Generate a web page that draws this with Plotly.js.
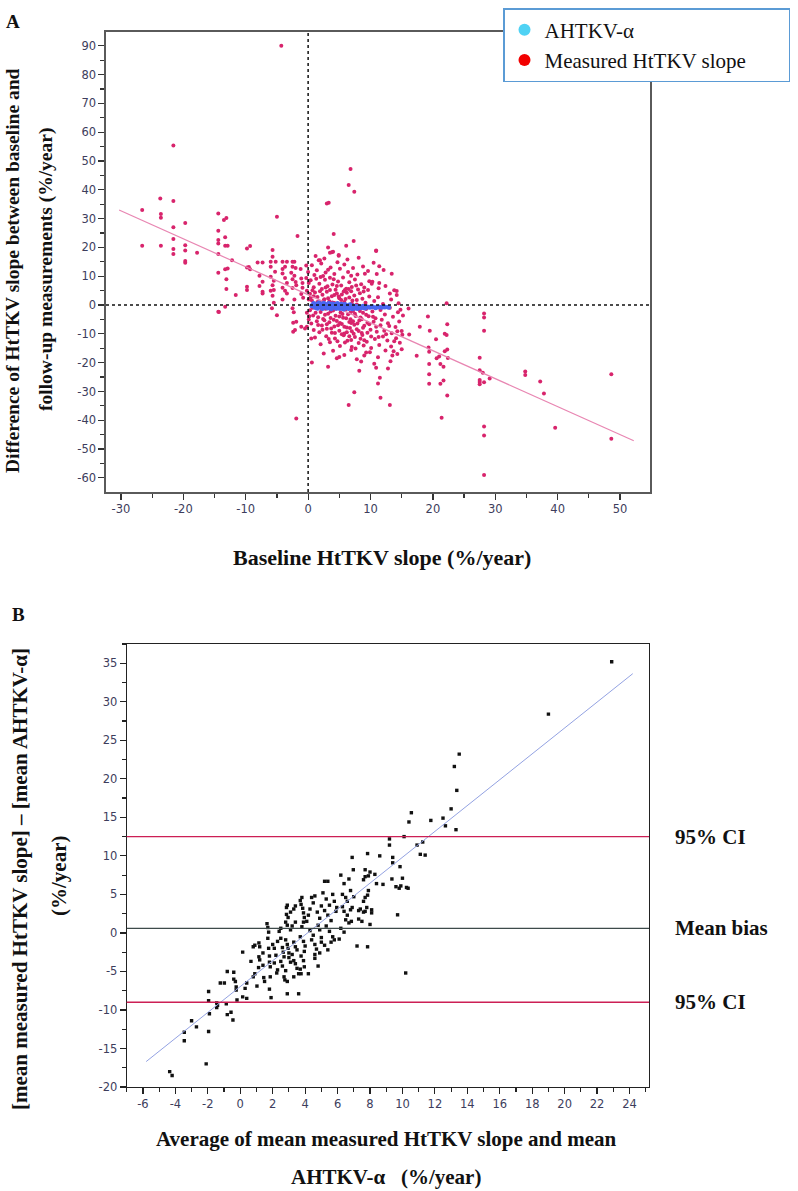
<!DOCTYPE html>
<html>
<head>
<meta charset="utf-8">
<script src="https://cdn.plot.ly/plotly-3.0.1.min.js"></script>
<style>html,body{margin:0;padding:0;background:#fff;}#chart{width:798px;height:1191px;}</style>
</head>
<body>
<div id="chart"></div>
<script>
// ---------- Panel A data (baseline slope, difference) ----------
const redLeft = [
[-4.3,90],[-21.6,55.4],[-23.7,37],[-21.6,36.1],[-26.6,33],[-23.6,31.6],[-23.6,30.3],[-21.6,27],[-19.7,28.5],
[-26.6,20.6],[-23.6,20.6],[-21.6,22.9],[-21.6,19.5],[-21.6,17.7],[-19.7,20.8],[-19.7,18.9],[-19.7,15.3],[-19.7,14.7],
[-17.8,18.2],[-14.4,31.8],[-13.5,29.5],[-13.1,30.2],[-14.4,25.8],[-14.4,22.6],[-14.4,21.4],[-13.3,23.5],[-13.3,20.6],
[-12.9,20.6],[-14.4,17.7],[-14.4,11.2],[-13.3,12.4],[-12.9,12.7],[-13.1,9],[-13.1,5.6],[-13.3,-0.6],[-14.4,-2.3],
[-12.2,15.6],[-11.6,3.5],[-9.8,19.6],[-9.3,20.5],[-9.8,13],[-9.5,13.2],[-9.3,12.4],[-9.8,6.4],[-9.8,5.2],[-8.1,14.8],
[-7.3,14.8],[-7.8,10.2],[-7.3,8.1],[-7.8,6.6],[-7.3,4.6],[-7.3,4],[-5.7,19.1],[-5.7,16.8],[-5,30.7],[-6.0,15],[-5.2,15],
[-6.0,13.3],[-5.3,11.6],[-6.0,9.8],[-5.5,8.4],[-5.7,6.9],[-6.0,5],[-5.5,5.2],[-5.7,3.2],[-5.5,0.8],[-5.8,-1.1],[-5,-3.5],
[-4.1,15],[-3.4,15],[-4.1,12.5],[-3.7,13.3],[-4.1,11.0],[-3.7,9.4],[-3.4,7.7],[-4.1,6.0],[-3.7,5.0],[-3.4,4.0],[-4.1,1.9],
[-2.5,15],[-2.2,15],[-2.5,13.3],[-2.0,12.9],[-2.7,11.2],[-2.2,10.2],[-2.5,9],[-2.0,8],[-2.5,5.9],[-1.9,6.9],[-2.2,1.9],
[-2.5,-1.1],[-2.3,-2.5],[-1.7,24],[-2.4,-6.1],[-1.9,-5.8],[-2.4,-9.3],[-1.1,-7.5],[-1.2,12.5],[-1.1,9.2],[-0.9,7.7],
[-0.9,6],[-1.1,3.8],[-0.8,2.5],[-0.3,13.7],[0.0,11.5],[-0.3,9.4],[0.1,7.7],[-0.2,5],[0.1,1.9],[-0.2,-2.7],[0.1,-5],
[-0.2,-7.5],[-14.3,-2.4],[-1.9,-39.4],[-0.5,-8.1],[-2.1,-8.7]
];
const redCluster = [
[3.5,18.2],[4.0,18.5],[4.9,17.4],[10.9,18.9],[2.6,16.2],[6.3,15.8],[8.1,16.4],[1.2,17.0],
[0.6,13.8],[1.4,12.1],[2.1,14.4],[2.8,11.3],[3.6,13.0],[4.2,10.8],[5.1,12.6],[5.8,14.1],[6.4,11.5],[7.2,12.9],[7.9,10.6],
[8.8,13.4],[9.6,11.8],[10.5,14.7],[12.1,12.2],[13.4,10.9],[1.0,10.4],[2.4,10.1],[3.2,12.3],[4.7,14.9],[6.9,10.2],[9.1,10.9],
[0.4,8.6],[0.9,6.2],[1.3,9.1],[1.8,7.4],[2.2,5.6],[2.7,8.8],[3.1,6.5],[3.5,9.5],[3.9,7.1],[4.4,5.3],[4.8,8.2],[5.3,6.8],
[5.6,9.6],[6.1,5.7],[6.6,7.9],[7.0,6.3],[7.5,8.9],[8.0,5.4],[8.5,7.2],[9.0,6.1],[9.6,5.2],[10.2,7.4],[11.3,5.8],[12.4,6.6],
[13.8,5.1],[0.7,5.1],[2.0,9.7],[4.1,9.0],[5.9,5.2],[7.7,6.8],
[0.3,3.9],[0.6,1.6],[1.1,4.4],[1.5,2.8],[1.9,0.9],[2.3,3.6],[2.6,2.0],[3.0,4.6],[3.4,1.3],[3.8,3.1],[4.2,0.7],[4.6,4.0],
[5.0,2.4],[5.4,3.7],[5.8,1.1],[6.2,4.3],[6.6,2.6],[7.0,0.5],[7.4,3.3],[7.8,1.8],[8.3,4.1],[8.7,2.2],[9.2,0.8],[9.8,3.0],
[10.6,1.4],[11.2,2.7],[12.0,0.4],[13.3,1.9],[14.5,0.6],[1.3,0.3],[2.9,0.2],[5.2,0.1],[6.9,4.8],[8.9,4.7],
[0.3,-1.8],[0.8,-3.6],[1.2,-0.9],[1.6,-4.2],[2.0,-2.4],[2.4,-4.8],[2.8,-1.3],[3.2,-3.0],[3.6,-4.5],[4.0,-1.9],[4.4,-3.7],
[4.8,-0.8],[5.2,-2.6],[5.6,-4.4],[6.0,-1.5],[6.4,-3.2],[6.8,-4.9],[7.2,-2.1],[7.6,-3.8],[8.0,-1.1],[8.4,-4.3],[8.8,-2.7],
[9.3,-1.4],[9.7,-3.9],[10.3,-2.2],[10.8,-4.6],[11.6,-1.7],[12.3,-3.3],[13.1,-0.9],[13.6,-4.1],[14.4,-2.5],[15.2,-3.6],
[16.1,-1.2],[3.4,-0.4],[5.9,-0.3],
[0.5,-6.4],[0.9,-8.7],[1.4,-5.6],[1.8,-9.4],[2.2,-7.1],[2.6,-5.3],[3.0,-8.2],[3.4,-6.0],[3.8,-9.6],[4.2,-7.4],[4.6,-5.5],
[5.0,-8.9],[5.4,-6.6],[5.8,-9.9],[6.2,-7.8],[6.6,-5.9],[7.0,-9.1],[7.4,-6.8],[7.8,-8.4],[8.2,-5.4],[8.6,-9.7],[9.0,-7.2],
[9.5,-6.1],[10.0,-8.6],[10.5,-5.8],[11.0,-9.3],[11.6,-7.0],[12.2,-8.9],[12.8,-6.3],[13.4,-9.8],[14.0,-7.6],[14.6,-5.7],
[15.0,-9.0],[6.9,-6.2],[4.8,-7.0],
[1.1,-11.3],[2.0,-13.6],[2.9,-10.8],[3.5,-12.9],[4.3,-11.6],[5.1,-14.2],[5.7,-10.5],[6.3,-12.4],[7.0,-14.6],[7.5,-11.1],
[8.1,-13.2],[8.7,-10.4],[9.4,-12.7],[10.1,-14.9],[10.7,-11.8],[11.4,-13.9],[12.0,-10.9],[12.7,-12.3],[13.3,-14.4],
[14.1,-11.5],[14.7,-13.1],[15.1,-10.3],[6.6,-10.8],[8.9,-14.0],
[2.5,-16.8],[4.0,-15.9],[5.8,-17.3],[6.9,-15.6],[7.8,-18.8],[9.9,-16.4],[11.2,-18.1],[12.4,-15.8],[14.3,-17.0],[15.0,-15.3],
[8.5,-19.6],[10.6,-20.4]
];
const redCore = [
[0.4,2.6],[0.7,-0.9],[0.9,3.1],[1.2,-2.7],[1.5,1.1],[1.6,-6.9],[1.9,4.8],[2.1,-1.1],[2.3,-8.6],[2.5,1.7],[2.7,-3.4],
[2.8,6.1],[3.0,-6.7],[3.2,2.4],[3.3,-11.8],[3.5,5.2],[3.6,-2.2],[3.7,-8.1],[3.9,0.9],[4.1,-5.1],[4.2,3.5],[4.3,-9.7],
[4.5,-1.3],[4.6,6.6],[4.7,-12.6],[4.9,3.0],[5.0,-4.0],[5.1,-6.2],[5.3,1.8],[5.4,-10.1],[5.5,-3.1],[5.7,4.7],[5.8,-7.5],
[5.9,-13.0],[6.0,2.1],[6.1,-4.6],[6.2,-9.4],[6.4,-1.0],[6.5,5.6],[6.7,-8.0],[6.8,-2.6],[6.9,-12.1],[7.1,1.6],[7.2,-5.6],
[7.3,-10.0],[7.5,-3.0],[7.6,-15.1],[7.8,0.2],[7.9,-6.4],[8.1,-9.0],[8.3,-2.1],[8.4,-11.7],[8.6,-4.9],[8.8,-7.9],
[9.0,-12.2],[9.3,-3.4],[9.5,-9.6],[9.8,-6.7],[10.1,-10.9],[10.4,-4.1],[10.9,-7.5],[11.3,-11.1],[11.8,-5.1],[12.5,-10.1],
[13.0,-7.3],[13.8,-12.6],[14.3,-9.1],[14.8,-1.6],[0.2,-3.9],[0.5,-11.6]
];
const redRight = [
[6.8,47.2],[6.5,41.7],[7.4,39.3],[3.0,35.3],[3.3,35.5],[4.1,24.7],[7.3,22.2],[6.1,20.6],[3.2,20],[3.8,18.3],[4.9,17.1],
[1.7,15.6],[1.9,15.6],[10.9,18.8],[11.4,13.5],[11.0,10.8],[9.8,8.3],[10.3,8.1],[11.4,7.7],[13.1,4.0],[14.2,4.9],[14.2,3.5],
[22.2,0.6],[28.2,-2.9],[28.2,-4.3],[28.2,-8.9],[19.2,-4],[22.3,-6.7],[21.9,-10],[20.5,-11.9],[19.3,-14.7],[0.6,-19.9],
[3.2,-21.4],[6.5,-34.7],[7.4,-30.3],[8.2,-22.8],[11.6,-32.2],[13.1,-34.7],[11.2,-27.2],[11.5,-25.2],[10.9,-21.8],
[12.8,-22],[13.2,-19.5],[13.5,-17.5],[13.7,-16],[4.6,-18.5],[5.0,-18],[9.0,-17.5],[9.3,-16.5],[27.5,-18.3],[27.5,-22.6],
[28,-23.5],[27.5,-26],[27.5,-26.7],[27.5,-27.5],[28.2,-26.8],[29.1,-25.5],[28.2,-42.2],[28.2,-45.3],[28.2,-59],
[34.8,-23.1],[34.8,-24.3],[37.2,-26.5],[37.8,-30.7],[39.6,-42.6],[48.6,-24],[48.6,-46.4],[19.5,-8.9],[17.9,-7.5],
[16.2,-10.2],[17.4,-17.6],[19.4,-16.2],[19.4,-20.5],[19.4,-24],[19.4,-27.3],[20.6,-18.5],[21.0,-17.9],[21.2,-20.5],
[21.7,-21.4],[21.7,-26.2],[21.2,-27.3],[22.2,-10.4],[21.9,-16],[22.3,-15.4],[22.4,-18.4],[22.3,-31.4],[21.4,-39.1]
];
const bluePts = [
[0.6,-0.2],[0.9,0.5],[1.1,-0.8],[1.3,0.2],[1.5,-1.1],[1.7,0.7],[1.9,-0.4],[2.1,0.3],[2.3,-1.2],[2.5,0.6],[2.7,-0.6],
[2.9,0.1],[3.1,-1.0],[3.3,0.5],[3.5,-0.3],[3.7,-1.3],[3.9,0.4],[4.1,-0.7],[4.3,0.2],[4.5,-1.1],[4.7,0.5],[4.9,-0.4],
[5.1,-1.2],[5.3,0.3],[5.5,-0.6],[5.7,-1.4],[5.9,0.2],[6.1,-0.9],[6.3,-0.2],[6.5,-1.2],[6.7,0.1],[6.9,-0.7],[7.1,-1.3],
[7.3,-0.3],[7.5,-1.0],[7.7,-0.5],[7.9,-1.2],[8.2,-0.6],[8.5,-0.9],[8.8,-0.4],[9.1,-1.0],[9.5,-0.7],[9.9,-0.8],[10.3,-0.6],
[10.8,-0.9],[11.3,-0.7],[11.8,-0.8],[12.3,-0.7],[12.9,-0.8],[2.0,-0.1],[3.0,-0.5],[4.0,0.0],[5.0,-0.2],[6.0,-0.5],
[1.0,0.0],[2.6,-0.2],[4.4,-0.4],[5.6,0.0]
];
const fitAX = [-30.3, 52.2];
const fitAY = [33.0, -47.1];
const tickAX = [-30,-20,-10,0,10,20,30,40,50];
const tickAY = [-60,-50,-40,-30,-20,-10,0,10,20,30,40,50,60,70,80,90];

// ---------- Panel B data (average, difference) ----------
const bPts = [
[-4.35,-18],[-4.2,-18.5],[-3.45,-12.9],[-3.45,-14],[-3.0,-11.4],[-2.7,-12.2],[-2.1,-17],[-1.95,-12.8],[-1.95,-7.6],
[-1.95,-8.8],[-1.9,-10.5],[-1.45,-9.7],[-1.4,-9.4],[-1.45,-9.1],[-1.23,-6.5],[-0.98,-6.5],[-0.86,-9.2],[-0.8,-10.6],
[-0.57,-10.3],[-0.45,-11.3],[-0.8,-5.0],[-0.4,-5.1],[-0.4,-6.0],[-0.3,-6.3],[-0.25,-7.0],[-0.25,-7.4],[-0.2,-8.7],
[0.15,-2.5],[0.15,-8.3],[0.4,-8.5],[0.3,-7.2],[0.4,-6.5],[0.66,-3.7],[0.8,-5.7],[0.9,-5.3],[1.03,-6.9],[1.13,-4.5],
[0.8,-1.8],[0.9,-1.6],
[1.15,-1.3],[1.2,-1.8],[1.15,-3.1],[1.2,-3.5],[1.4,-4.2],[1.45,-5.8],[1.5,-6.3],[1.4,-2.6],[1.65,1.2],[1.7,0.7],[1.75,0.1],
[1.7,-0.7],[1.75,-2.0],[1.8,-3.0],[1.8,-3.8],[1.85,-4.4],[1.85,-5.7],[1.8,-7.3],[1.9,-8.4],
[2.0,-1.5],[2.1,-2.0],[2.2,-2.9],[2.1,-3.9],[2.3,-4.8],[2.25,-5.2],[2.3,-1.1],[2.4,0.2],[2.5,0.6],[2.5,-0.7],[2.6,-1.9],
[2.65,-2.5],[2.7,-3.1],[2.5,-3.7],[2.6,-4.3],[2.8,-4.9],[2.75,-6.1],[2.9,-6.3],[2.7,-5.7],[2.9,-7.9],[2.8,-0.9],[2.9,-1.5],
[2.95,-2.0],[3.0,-2.6],[3.0,-3.2],[3.1,-3.8],[2.85,3.3],[2.9,3.6],[2.85,2.4],[2.95,2.0],[2.8,1.4],[2.9,1.0],
[3.1,2.7],[3.3,3.1],[3.4,3.5],[3.4,1.4],[3.2,0.9],[3.1,0.4],[3.3,-1.2],[3.4,-1.8],[3.5,-2.2],[3.2,-2.8],[3.3,-3.6],[3.4,-4.0],
[3.5,-4.6],[3.6,-5.3],[3.3,-5.7],[3.6,-7.9],[3.7,4.2],[3.8,4.6],[3.75,3.7],[3.85,3.2],[3.9,2.6],[3.95,2.0],[3.9,1.4],
[3.8,0.8],[3.7,-0.5],[3.9,-1.1],[4.0,-1.7],[3.95,-2.4],[3.75,-3.0],[3.9,-3.6],[3.95,-4.4],[3.7,-4.7],[3.75,-5.3],
[4.1,1.5],[4.2,2.3],[4.3,3.1],[4.5,3.9],[4.4,4.6],[4.6,4.8],[4.3,0.3],[4.5,-0.3],[4.4,-0.9],[4.6,-1.5],[4.7,-2.1],[4.9,-2.6],
[4.6,-3.3],[4.8,-4.3],[4.2,-5.3],[4.6,-2.8],[4.8,1.0],[4.9,1.9],[4.75,2.7],[5.0,3.5],[4.9,0.4],[5.0,-0.6],[5.0,-1.2],
[5.2,6.7],[5.4,6.7],[5.1,5.2],[5.3,4.4],[5.5,3.6],[5.2,2.9],[5.4,2.3],[5.6,1.6],[5.3,0.9],[5.5,0.2],[5.7,-0.5],[5.8,-0.9],
[5.2,-1.6],[5.4,-2.2],[5.6,-1.2],[5.9,2.8],[5.8,4.1],[5.7,5.0],[5.95,3.3],
[6.2,7.5],[6.4,6.4],[6.3,5.0],[6.5,4.6],[6.6,4.1],[6.3,3.4],[6.4,2.8],[6.6,2.3],[6.5,1.7],[6.7,1.3],[6.2,0.6],[6.4,0.1],
[6.1,-0.8],[6.8,3.0],[6.9,3.3],[6.85,1.5],[6.97,8.2],[6.9,9.8],[6.7,7.0],[6.8,5.5],[7.0,4.7],
[7.2,-1.7],[7.3,1.8],[7.5,1.5],[7.6,2.7],[7.7,2.8],[7.8,3.3],[7.6,4.1],[7.7,4.6],[7.85,4.9],[7.9,5.5],[7.6,6.9],[7.7,7.3],
[7.9,7.4],[8.0,7.9],[7.7,8.2],[7.85,10.3],[7.85,-1.8],[7.4,3.1],[7.3,2.9],[8.1,3.0],[8.1,2.6],[8.0,1.1],
[8.3,7.6],[8.4,6.4],[8.6,10.0],[8.8,6.3],[9.2,12.2],[9.2,11.4],[9.4,9.8],[9.4,9.1],[9.35,7.0],[9.6,6.0],[9.8,5.8],
[9.7,2.35],[9.85,8.6],[10.0,7.1],[9.9,6.1],[10.35,5.8],[10.25,5.9],[10.1,12.5],[10.2,-5.2],
[10.4,14.4],[10.55,15.6],[10.9,11.4],[11.25,11.8],[11.1,10.2],[11.4,10.1],[11.75,14.6],[12.5,14.9],[12.65,13.9],
[13.0,16.1],[13.35,18.5],[13.2,21.6],[13.5,23.2],[13.3,13.4],[19.0,28.4],[22.9,35.2]
];
const fitBX = [-5.8, 24.2];
const fitBY = [-16.7, 33.65];
const meanBias = 0.6, ciUpper = 12.5, ciLower = -9.0;
const tickBX = [-6,-4,-2,0,2,4,6,8,10,12,14,16,18,20,22,24];
const tickBY = [-20,-15,-10,-5,0,5,10,15,20,25,30,35];

const legendNames = ['AHTKV-\u03b1', 'Measured HtTKV slope'];

// ---------- traces ----------
const redAll = redLeft.concat(redCluster, redCore, redRight);
const serif = 'Liberation Serif, Times New Roman, serif';
const pad = '\u00a0'.repeat(7);
const traces = [
  {x:[null], y:[null], type:'scatter', mode:'markers', name:legendNames[0], marker:{color:'#4fd2f4', size:12}, xaxis:'x', yaxis:'y'},
  {x:[null], y:[null], type:'scatter', mode:'markers', name:legendNames[1] + pad, marker:{color:'#f20000', size:12}, xaxis:'x', yaxis:'y'},
  {x:redAll.map(p=>p[0]), y:redAll.map(p=>p[1]), type:'scatter', mode:'markers', showlegend:false,
   marker:{color:'#d8246c', size:4}, xaxis:'x', yaxis:'y', hoverinfo:'skip'},
  {x:fitAX, y:fitAY, type:'scatter', mode:'lines', showlegend:false, line:{color:'#e886b2', width:1.2}, xaxis:'x', yaxis:'y'},
  {x:bluePts.map(p=>p[0]), y:bluePts.map(p=>p[1]), type:'scatter', mode:'markers', showlegend:false,
   marker:{color:'#4a67f0', size:5}, xaxis:'x', yaxis:'y'},
  {x:bPts.map(p=>p[0]), y:bPts.map(p=>p[1]), type:'scatter', mode:'markers', showlegend:false,
   marker:{color:'#111', size:3.4, symbol:'square'}, xaxis:'x2', yaxis:'y2'},
  {x:fitBX, y:fitBY, type:'scatter', mode:'lines', showlegend:false, line:{color:'#93a2e2', width:1}, xaxis:'x2', yaxis:'y2'}
];

const lab = v => String(v);  // hyphen-minus labels like the original
const tickFont = {family:'DejaVu Sans, Verdana, sans-serif', size:11.5, color:'#3d3d5c'};
const axA = {showgrid:false, zeroline:false, showline:true, mirror:true, linecolor:'#5a5a5a', linewidth:1.6,
  ticks:'outside', ticklen:6, tickwidth:1.2, tickcolor:'#333', tickfont:tickFont, fixedrange:true};
const axB = {showgrid:false, zeroline:false, showline:true, mirror:true, linecolor:'#222', linewidth:1,
  ticks:'outside', ticklen:6, tickwidth:1.2, tickcolor:'#222', tickfont:tickFont, fixedrange:true};

const layout = {
  width:798, height:1191, margin:{l:0,r:0,t:0,b:0}, paper_bgcolor:'#fff', plot_bgcolor:'#fff',
  showlegend:true,
  legend:{x:503/798, y:1-8/1191, xanchor:'left', yanchor:'top', bgcolor:'#fff', bordercolor:'#5b9bd5', borderwidth:1.5,
    font:{family:serif, size:21, color:'#111'}, itemsizing:'constant', traceorder:'normal'},
  xaxis: Object.assign({}, axA, {domain:[106/798, 650/798], range:[-32.4, 54.8], anchor:'y',
    tickmode:'array', tickvals:tickAX, ticktext:tickAX.map(lab), minor:{dtick:5, tick0:0, ticks:'outside', ticklen:4, tickcolor:'#333'}}),
  yaxis: Object.assign({}, axA, {domain:[699/1191, 1159/1191], range:[-64.9, 94.8], anchor:'x',
    tickmode:'array', tickvals:tickAY, ticktext:tickAY.map(lab), minor:{dtick:5, tick0:0, ticks:'outside', ticklen:4, tickcolor:'#333'}}),
  xaxis2: Object.assign({}, axB, {domain:[126.7/798, 649/798], range:[-7, 25.2], anchor:'y2',
    tickmode:'array', tickvals:tickBX, ticktext:tickBX.map(lab), minor:{dtick:1, tick0:0, ticks:'outside', ticklen:4, tickcolor:'#222'}}),
  yaxis2: Object.assign({}, axB, {domain:[104/1191, 547/1191], range:[-20, 37.5], anchor:'x2',
    tickmode:'array', tickvals:tickBY, ticktext:tickBY.map(lab), minor:{dtick:2.5, tick0:0, ticks:'outside', ticklen:4, tickcolor:'#222'}}),
  shapes:[
    {type:'line', xref:'x', yref:'y domain', x0:0, x1:0, y0:0, y1:1, line:{color:'#111', width:1.5, dash:'dot'}},
    {type:'line', xref:'x domain', yref:'y', x0:0, x1:1, y0:0, y1:0, line:{color:'#111', width:1.5, dash:'dot'}},
    {type:'line', xref:'x2 domain', yref:'y2', x0:0, x1:1, y0:ciUpper, y1:ciUpper, line:{color:'#cc1f55', width:1.3}},
    {type:'line', xref:'x2 domain', yref:'y2', x0:0, x1:1, y0:meanBias, y1:meanBias, line:{color:'#3d4a4a', width:1.2}},
    {type:'line', xref:'x2 domain', yref:'y2', x0:0, x1:1, y0:ciLower, y1:ciLower, line:{color:'#cc1f55', width:1.3}}
  ],
  annotations:[
    {text:'<b>A</b>', x:13/798, y:1-22/1191, xref:'paper', yref:'paper', xanchor:'center', yanchor:'middle', showarrow:false, font:{family:serif, size:19, color:'#111'}},
    {text:'<b>B</b>', x:18/798, y:1-614/1191, xref:'paper', yref:'paper', xanchor:'center', yanchor:'middle', showarrow:false, font:{family:serif, size:19, color:'#111'}},
    {text:'<b>Difference of HtTKV slope between baseline and</b>', x:13/798, y:1-271/1191, xref:'paper', yref:'paper', textangle:-90, xanchor:'center', yanchor:'middle', showarrow:false, font:{family:serif, size:19.5, color:'#111'}},
    {text:'<b>follow-up measurements (%/year)</b>', x:46/798, y:1-270/1191, xref:'paper', yref:'paper', textangle:-90, xanchor:'center', yanchor:'middle', showarrow:false, font:{family:serif, size:19.5, color:'#111'}},
    {text:'<b>Baseline HtTKV slope (%/year)</b>', x:382/798, y:1-557/1191, xref:'paper', yref:'paper', xanchor:'center', yanchor:'middle', showarrow:false, font:{family:serif, size:22, color:'#111'}},
    {text:'<b>[mean measured HtTKV slope] \u2013 [mean AHTKV-\u03b1]</b>', x:20/798, y:1-879/1191, xref:'paper', yref:'paper', textangle:-90, xanchor:'center', yanchor:'middle', showarrow:false, font:{family:serif, size:21, color:'#111'}},
    {text:'<b>(%/year)</b>', x:59/798, y:1-876/1191, xref:'paper', yref:'paper', textangle:-90, xanchor:'center', yanchor:'middle', showarrow:false, font:{family:serif, size:21, color:'#111'}},
    {text:'<b>Average of mean measured HtTKV slope and mean</b>', x:386/798, y:1-1139/1191, xref:'paper', yref:'paper', xanchor:'center', yanchor:'middle', showarrow:false, font:{family:serif, size:21, color:'#111'}},
    {text:'<b>AHTKV-\u03b1\u00a0\u00a0\u00a0(%/year)</b>', x:386/798, y:1-1177/1191, xref:'paper', yref:'paper', xanchor:'center', yanchor:'middle', showarrow:false, font:{family:serif, size:21, color:'#111'}},
    {text:'<b>95% CI</b>', x:673/798, y:ciUpper, xref:'paper', yref:'y2', xanchor:'left', yanchor:'middle', showarrow:false, font:{family:serif, size:21, color:'#111'}},
    {text:'<b>Mean bias</b>', x:673/798, y:meanBias, xref:'paper', yref:'y2', xanchor:'left', yanchor:'middle', showarrow:false, font:{family:serif, size:21, color:'#111'}},
    {text:'<b>95% CI</b>', x:673/798, y:ciLower, xref:'paper', yref:'y2', xanchor:'left', yanchor:'middle', showarrow:false, font:{family:serif, size:21, color:'#111'}}
  ]
};

Plotly.newPlot('chart', traces, layout, {displayModeBar:false, staticPlot:true});
</script>
</body>
</html>
